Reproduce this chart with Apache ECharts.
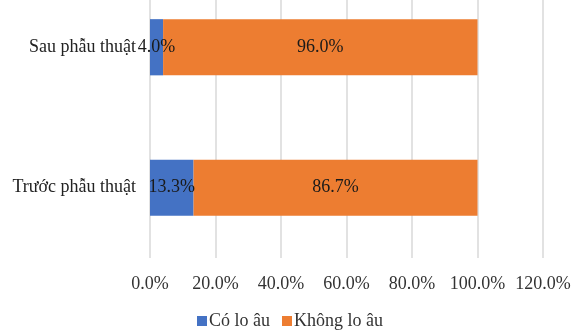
<!DOCTYPE html>
<html>
<head>
<meta charset="utf-8">
<script src="https://cdn.jsdelivr.net/npm/echarts@6/dist/echarts.min.js"></script>
<style>
  html, body { margin: 0; padding: 0; background: #fff; overflow: hidden; }
  /* the plot area starts above the visible window, so the chart is shifted up */
  #mainChart { width: 580px; height: 354px; margin-top: -23px; }
</style>
</head>
<body>
<div id="mainChart"></div>
<script>
var categories = ['Trước phẫu thuật', 'Sau phẫu thuật'];
var coLoAu = [13.3, 4.0];
var khongLoAu = [86.7, 96.0];
var seriesNames = ['Có lo âu', 'Không lo âu'];

var font = 'Liberation Serif, Times New Roman, serif';

var myChart = echarts.init(document.getElementById('mainChart'));

var labelStyle = {
    show: true,
    position: 'inside',
    color: '#1a1a1a',
    fontFamily: font,
    fontSize: 18,
    formatter: function (p) { return p.value.toFixed(1) + '%'; }
};

var option = {
    animation: false,
    textStyle: { fontFamily: font },
    grid: { left: 150, right: 37, top: 0, bottom: 73, containLabel: false },
    xAxis: {
        type: 'value',
        min: 0,
        max: 120,
        interval: 20,
        axisLine: { show: false },
        axisTick: { show: false },
        splitLine: { lineStyle: { color: '#d9d9d9', width: 1.5 } },
        axisLabel: {
            margin: 17,
            color: '#333',
            fontFamily: font,
            fontSize: 18,
            formatter: function (v) { return v.toFixed(1) + '%'; }
        }
    },
    yAxis: {
        type: 'category',
        data: categories,
        axisLine: { show: false },
        axisTick: { show: false },
        axisLabel: { margin: 14, color: '#222', fontFamily: font, fontSize: 18 }
    },
    legend: {
        data: seriesNames,
        top: 330,
        left: 'center',
        itemWidth: 10,
        itemHeight: 10,
        itemGap: 12,
        icon: 'rect',
        textStyle: { color: '#333', fontFamily: font, fontSize: 18, padding: [0, 0, 0, -3] }
    },
    series: [
        {
            name: seriesNames[0], type: 'bar', stack: 'total', barWidth: '40%',
            data: coLoAu, itemStyle: { color: '#4472c4' }, label: labelStyle
        },
        {
            name: seriesNames[1], type: 'bar', stack: 'total', barWidth: '40%',
            data: khongLoAu, itemStyle: { color: '#ed7d31' }, label: labelStyle
        }
    ]
};

myChart.setOption(option);
</script>
</body>
</html>
